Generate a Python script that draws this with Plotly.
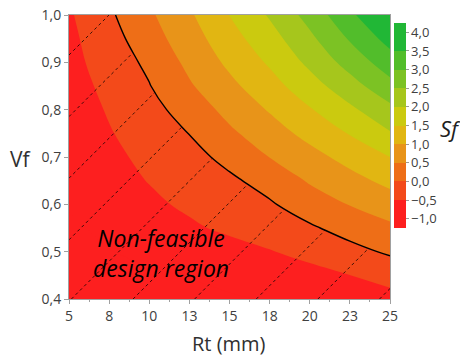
import numpy as np
import plotly.graph_objects as go

# ---------------- data ----------------
rt = [5, 7.5, 10, 12.5, 15, 17.5, 20, 22.5, 25]
vf = [0.40, 0.45, 0.50, 0.55, 0.60, 0.65, 0.70, 0.75, 0.80, 0.85, 0.90, 0.95, 1.00]

sf_040 = [-1.17, -1.14, -1.11, -1.07, -1.03, -0.98, -0.91, -0.82, -0.67]
sf_045 = [-1.12, -1.09, -1.04, -0.99, -0.92, -0.82, -0.68, -0.505, -0.31]
sf_050 = [-1.08, -1.01, -0.93, -0.83, -0.70, -0.53, -0.333, -0.135, 0.064]
sf_055 = [-1.06, -0.92, -0.755, -0.58, -0.40, -0.223, -0.06, 0.17, 0.40]
sf_060 = [-0.97, -0.78, -0.60, -0.41, -0.225, -0.05, 0.233, 0.52, 0.76]
sf_065 = [-0.90, -0.69, -0.48, -0.27, -0.08, 0.17, 0.55, 0.84, 1.13]
sf_070 = [-0.865, -0.615, -0.38, -0.15, 0.13, 0.51, 0.835, 1.165, 1.50]
sf_075 = [-0.82, -0.535, -0.26, 0.01, 0.41, 0.78, 1.15, 1.53, 1.96]
sf_080 = [-0.78, -0.455, -0.16, 0.21, 0.65, 1.04, 1.46, 1.90, 2.37]
sf_085 = [-0.72, -0.365, -0.02, 0.445, 0.88, 1.31, 1.79, 2.30, 2.84]
sf_090 = [-0.66, -0.27, 0.10, 0.62, 1.10, 1.565, 2.11, 2.69, 3.27]
sf_095 = [-0.61, -0.20, 0.29, 0.77, 1.31, 1.80, 2.39, 3.05, 3.68]
sf_100 = [-0.56, -0.08, 0.42, 0.93, 1.51, 2.05, 2.68, 3.39, 4.10]
sf = [sf_040, sf_045, sf_050, sf_055, sf_060, sf_065, sf_070,
      sf_075, sf_080, sf_085, sf_090, sf_095, sf_100]

x_tick_vals = [5, 7.5, 10, 12.5, 15, 17.5, 20, 22.5, 25]
x_tick_text = ['5', '8', '10', '13', '15', '18', '20', '23', '25']
x_minor_vals = [6.25, 8.75, 11.25, 13.75, 16.25, 18.75, 21.25, 23.75]
y_tick_vals = [0.4, 0.5, 0.6, 0.7, 0.8, 0.9, 1.0]
cb_tick_vals = [-1, -0.5, 0, 0.5, 1, 1.5, 2, 2.5, 3, 3.5, 4]

# band colours from -1 to 4 in steps of 0.5
band_colors = ['#FD1F1F', '#F34A1A', '#EE6E17', '#E89419', '#E1B612',
               '#CBCA0F', '#A6C61C', '#7CC224', '#52BD2B', '#21B736']

# dotted hatch lines of the non-feasible region (Vf where each line meets Rt=5)
hatch_vf_at_rt5 = [0.9155, 0.7853, 0.6552, 0.5250, 0.3949, 0.2647,
                   0.1346, 0.0044, -0.1257, -0.2559]
hatch_slope = 0.0339  # Vf per mm of Rt
feasible_limit = 0.0

# ---------------- figure ----------------
stops = [band_colors[0]] + band_colors + [band_colors[-1]]
colorscale = [[k / (len(stops) - 1), c] for k, c in enumerate(stops)]

fig = go.Figure()
fig.add_trace(go.Contour(
    x=rt, y=vf, z=sf,
    contours=dict(start=-1, end=4, size=0.5, coloring='fill', showlines=False),
    colorscale=colorscale,
    line=dict(width=0, smoothing=1.1),
    hoverinfo='skip',
    colorbar=dict(
        thickness=12, thicknessmode='pixels',
        len=0.723, lenmode='fraction', y=0.25, yanchor='bottom',
        x=(394 - 69) / 321, xanchor='left', xpad=0, ypad=0,
        outlinewidth=0, tickmode='array', tickvals=cb_tick_vals,
        tickformat='.1f', ticks='outside', ticklen=3, tickcolor='#9a9a9a',
        tickfont=dict(size=13, color='#404040', family='Open Sans'),
    ),
))
fig.add_trace(go.Contour(
    x=rt, y=vf, z=sf,
    contours=dict(start=feasible_limit, end=feasible_limit, size=1, coloring='none'),
    line=dict(color='black', width=1.4, smoothing=1.1),
    showscale=False, hoverinfo='skip',
))

Z = np.array(sf, dtype=float)
rt_idx = np.arange(len(rt))
vf_idx = np.arange(len(vf))


def sf_at(r, v):
    c = np.interp(r, rt, rt_idx)
    w = np.interp(v, vf, vf_idx)
    j0 = min(int(np.floor(c)), len(rt) - 2)
    i0 = min(int(np.floor(w)), len(vf) - 2)
    fc, fw = c - j0, w - i0
    return (Z[i0, j0] * (1 - fw) * (1 - fc) + Z[i0, j0 + 1] * (1 - fw) * fc
            + Z[i0 + 1, j0] * fw * (1 - fc) + Z[i0 + 1, j0 + 1] * fw * fc)


for b in hatch_vf_at_rt5:
    r_start = 5.0 if b >= 0.4 else 5.0 + (0.4 - b) / hatch_slope
    if r_start >= 25:
        continue
    rs = np.linspace(r_start, 25, 1000)
    vs = b + hatch_slope * (rs - 5)
    xs, ys = [], []
    prev = None
    for r, v in zip(rs, vs):
        if v > 1.0:
            if prev is not None:
                xs.append(5 + (1.0 - b) / hatch_slope)
                ys.append(1.0)
            break
        s = sf_at(r, v)
        if s >= feasible_limit:
            if prev is not None:
                pr, pv, ps = prev
                t = (feasible_limit - ps) / (s - ps)
                xs.append(pr + t * (r - pr))
                ys.append(pv + t * (v - pv))
            break
        xs.append(r)
        ys.append(v)
        prev = (r, v, s)
    if len(xs) > 1:
        fig.add_trace(go.Scatter(x=[xs[0], xs[-1]], y=[ys[0], ys[-1]], mode='lines',
                                 line=dict(color='rgba(0,0,0,0.75)', width=1, dash='dot'),
                                 hoverinfo='skip', showlegend=False, cliponaxis=True))

axis_col = '#a0a0a0'
fig.update_xaxes(range=[5, 25], tickmode='array', tickvals=x_tick_vals, ticktext=x_tick_text,
                 ticks='outside', ticklen=4, tickcolor=axis_col, showline=True,
                 linecolor=axis_col, linewidth=1, mirror=True, showgrid=False, zeroline=False,
                 tickfont=dict(size=14, color='#404040'),
                 minor=dict(tickvals=x_minor_vals, ticks='outside', ticklen=2, tickcolor=axis_col))
fig.update_yaxes(range=[0.4, 1.0], tickmode='array', tickvals=y_tick_vals, tickformat='.1f',
                 ticks='outside', ticklen=4, tickcolor=axis_col, showline=True,
                 linecolor=axis_col, linewidth=1, mirror=True, showgrid=False, zeroline=False,
                 tickfont=dict(size=14, color='#404040'))

fig.update_layout(
    width=460, height=356,
    margin=dict(l=69, r=70, t=15, b=57, autoexpand=False),
    paper_bgcolor='white', plot_bgcolor='white',
    separators=',.', showlegend=False,
    font=dict(family='Open Sans', color='#404040'),
    annotations=[
        dict(text='Vf', xref='paper', yref='paper', x=(21 - 69) / 321, y=(299 - 159) / 284,
             showarrow=False, font=dict(size=21, color='#303030'), xanchor='center', yanchor='middle'),
        dict(text='Rt (mm)', xref='paper', yref='paper', x=(229 - 69) / 321, y=(299 - 343) / 284,
             showarrow=False, font=dict(size=20, color='#303030'), xanchor='center', yanchor='middle'),
        dict(text='<i>Sf</i>', xref='paper', yref='paper', x=(450 - 69) / 321, y=(299 - 128) / 284,
             showarrow=False, font=dict(size=22, color='#202020'), xanchor='center', yanchor='middle'),
        dict(text='<i>Non-feasible<br>design region</i>', xref='x', yref='y', x=10.76, y=0.497,
             showarrow=False, font=dict(size=23, color='black'), align='center',
             xanchor='center', yanchor='middle'),
    ],
)

fig.write_html('out.html', config={'displayModeBar': False},
               post_script="document.body.style.margin='0px';document.body.style.padding='0px';")
